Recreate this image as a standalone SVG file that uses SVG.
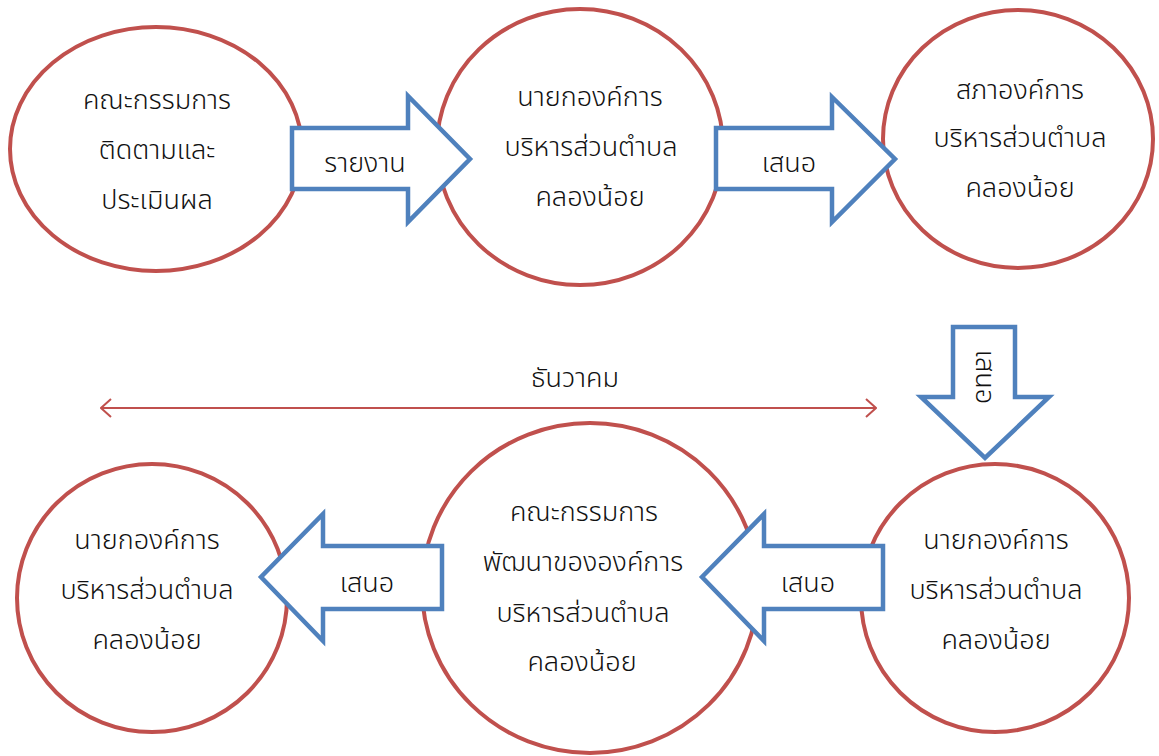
<svg xmlns="http://www.w3.org/2000/svg" width="1159" height="756" viewBox="0 0 1159 756">
<style>
.node ellipse{fill:#fff;stroke:#c0504d;stroke-width:4}
.arrow polygon{fill:#fff;stroke:#4f81bd;stroke-width:4.5;stroke-linejoin:miter}
text{font-family:"Noto Sans Thai","Noto Sans","DejaVu Sans",sans-serif;font-size:27px;font-weight:300;fill:#111;text-anchor:middle}
.tl{stroke:#c0504d;stroke-width:2;fill:none}
</style>
<defs>
<marker id="chev" viewBox="0 0 12 20" refX="11" refY="10" markerWidth="12" markerHeight="20" markerUnits="userSpaceOnUse" orient="auto-start-reverse">
<path d="M1 1 L11 10 L1 19" fill="none" stroke="#c0504d" stroke-width="2"/>
</marker>
</defs>
<rect width="1159" height="756" fill="#fff"/>

<g id="n1" class="node"><ellipse cx="156" cy="149" rx="146" ry="122"/>
<text x="157" y="109">คณะกรรมการ</text><text x="157" y="159">ติดตามและ</text><text x="157" y="209">ประเมินผล</text></g>

<g id="n2" class="node"><ellipse cx="580" cy="147" rx="143" ry="138"/>
<text x="590" y="106">นายกองค์การ</text><text x="591" y="156">บริหารส่วนตำบล</text><text x="590" y="206">คลองน้อย</text></g>

<g id="n3" class="node"><ellipse cx="1018" cy="139" rx="135" ry="129"/>
<text x="1020" y="99">สภาองค์การ</text><text x="1020" y="147">บริหารส่วนตำบล</text><text x="1020" y="197">คลองน้อย</text></g>

<g id="n4" class="node"><ellipse cx="995" cy="598" rx="134" ry="134"/>
<text x="996" y="549">นายกองค์การ</text><text x="996" y="599">บริหารส่วนตำบล</text><text x="996" y="649">คลองน้อย</text></g>

<g id="n5" class="node"><ellipse cx="590" cy="588" rx="168" ry="165"/>
<text x="584" y="521">คณะกรรมการ</text><text x="583" y="571">พัฒนาขององค์การ</text><text x="583" y="622">บริหารส่วนตำบล</text><text x="582" y="671">คลองน้อย</text></g>

<g id="n6" class="node"><ellipse cx="152" cy="598" rx="135" ry="134"/>
<text x="147" y="549">นายกองค์การ</text><text x="147" y="599">บริหารส่วนตำบล</text><text x="147" y="649">คลองน้อย</text></g>

<g id="connectors">
<g id="a1" class="arrow"><polygon points="292,128 408,128 408,96 470,159 408,222 408,189 292,189"/><text x="365" y="172">รายงาน</text></g>
<g id="a2" class="arrow"><polygon points="716,128 832,128 832,97 895,159 832,222 832,189 716,189"/><text x="789" y="172">เสนอ</text></g>
<g id="a3" class="arrow"><polygon points="953,327 1015,327 1015,397 1049,397 985,458 921,397 953,397"/><text x="0" y="0" transform="translate(976,377) rotate(90)">เสนอ</text></g>
<g id="a4" class="arrow"><polygon points="883,546 764,546 764,514 702,577 764,641 764,609 883,609"/><text x="808" y="592">เสนอ</text></g>
<g id="a5" class="arrow"><polygon points="442,546 323,546 323,514 261,577 323,641 323,609 442,609"/><text x="367" y="592">เสนอ</text></g>
<g id="timeline"><line class="tl" x1="101" y1="408" x2="876" y2="408" marker-start="url(#chev)" marker-end="url(#chev)"/><text x="575" y="387">ธันวาคม</text></g>
</g>
</svg>
